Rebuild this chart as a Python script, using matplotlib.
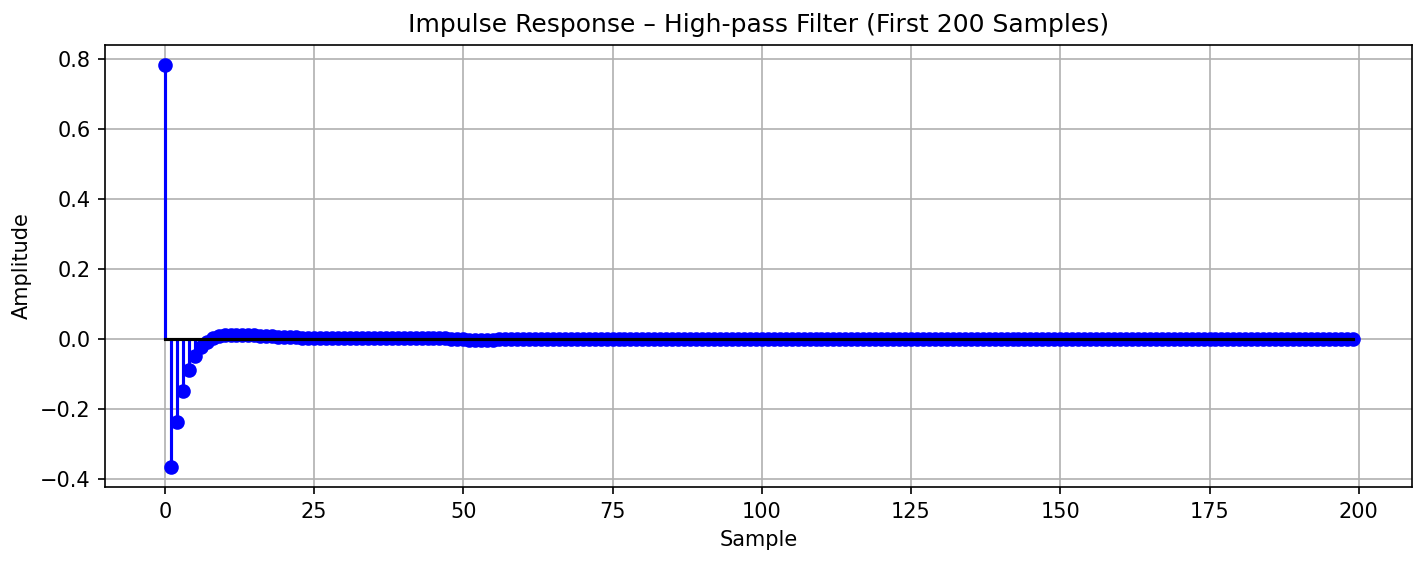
import numpy as np
import matplotlib.pyplot as plt

# impulse response values (samples 0..199)
head = [0.783, -0.366, -0.237, -0.149, -0.089, -0.049, -0.023, -0.008, 0.002, 0.008,
        0.011, 0.012, 0.012, 0.012, 0.011, 0.010, 0.009, 0.008, 0.007, 0.006,
        0.005, 0.004, 0.004, 0.003, 0.002, 0.002, 0.001, 0.001, 0.001, 0.001]
middle = [0.001, 0.001, 0.001, 0.001, 0.001, 0.001, 0.001, 0.001, 0.001, 0.001,
          0.001, 0.001, 0.001, 0.001, 0.001, 0.001, 0.001, 0.001, 0.000, 0.000,
          -0.001, -0.002, -0.003, -0.003, -0.003, -0.002]
tail = [0.0005] * (200 - len(head) - len(middle))
h = np.array(head + middle + tail)
n = np.arange(len(h))

fig, ax = plt.subplots(figsize=(9.5, 3.74), dpi=150)
markerline, stemlines, baseline = ax.stem(n, h, linefmt="b-", markerfmt="bo", basefmt="k-")
markerline.set_markersize(6)
ax.set_title("Impulse Response \u2013 High-pass Filter (First 200 Samples)")
ax.set_xlabel("Sample")
ax.set_ylabel("Amplitude")
ax.grid(True)
fig.subplots_adjust(left=0.074, right=0.991, top=0.920, bottom=0.132)
plt.savefig("out.png", dpi=150)
